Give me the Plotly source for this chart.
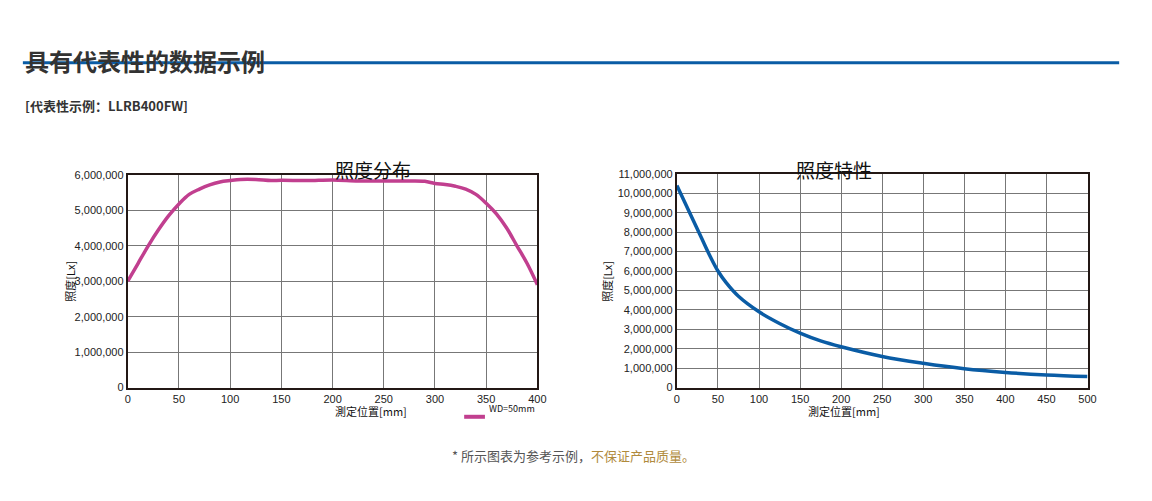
import plotly.graph_objects as go

# 照度分布 (left)
dist_x = [0, 10, 20, 30, 40, 50, 60, 70, 80, 90, 100, 110, 125, 140, 150, 175, 200, 225, 250,
          275, 290, 300, 310, 320, 330, 340, 350, 360, 370, 380, 390, 400]
dist_y = [3.0, 3.5, 4.0, 4.45, 4.85, 5.18, 5.45, 5.6, 5.72, 5.8, 5.84, 5.87, 5.87, 5.84, 5.85,
          5.84, 5.86, 5.83, 5.83, 5.83, 5.82, 5.76, 5.73, 5.68, 5.6, 5.45, 5.2, 4.9, 4.5, 4.0, 3.5, 2.9]
dist_y = [v * 1e6 for v in dist_y]

# 照度特性 (right)
char_x = [0, 10, 20, 30, 40, 50, 60, 75, 100, 125, 150, 175, 200, 250, 300, 350, 400, 450, 500]
char_y = [10.4, 9.5, 8.6, 7.7, 6.8, 6.0, 5.4, 4.7, 3.9, 3.3, 2.8, 2.4, 2.1, 1.6, 1.25, 0.97, 0.78, 0.65, 0.57]
char_y = [v * 1e6 for v in char_y]

# page body has an 8px margin, so the figure is made smaller and positions are offset
W, H = 1136, 485
def px(x): return (x - 8) / W
def py(y): return (H - (y - 8)) / H

fig = go.Figure()
fig.add_trace(go.Scatter(x=dist_x, y=dist_y, mode="lines", line=dict(color="#c13f8f", width=3.5, shape="spline"),
                         xaxis="x", yaxis="y", showlegend=False))
fig.add_trace(go.Scatter(x=char_x, y=char_y, mode="lines", line=dict(color="#0a5ca5", width=3.5, shape="spline"),
                         xaxis="x2", yaxis="y2", showlegend=False))

ax = dict(showline=True, mirror=True, linecolor="#231815", linewidth=2, gridcolor="#777", gridwidth=1,
          zeroline=False, ticks="", tickfont=dict(size=11, color="#222", family="Liberation Sans"))
fig.update_layout(
    width=W, height=H, margin=dict(l=0, r=0, t=0, b=0), plot_bgcolor="white", paper_bgcolor="white",
    font=dict(family="Noto Sans CJK SC", color="#333"),
    xaxis=dict(ax, domain=[px(126), px(540)], range=[0, 400], dtick=50, anchor="y"),
    yaxis=dict(ax, domain=[py(391), py(173)], range=[0, 6e6], dtick=1e6, tickformat=",d", anchor="x"),
    xaxis2=dict(ax, domain=[px(681), px(1096)], range=[0, 500], dtick=50, anchor="y2"),
    yaxis2=dict(ax, domain=[py(391), py(172)], range=[0, 11e6], dtick=1e6, tickformat=",d", anchor="x2"),
)

def note(x, y, text, size, **kw):
    fig.add_annotation(x=px(x), y=py(y), xref="paper", yref="paper", text=text, showarrow=False,
                       font=dict(size=size, color=kw.pop("color", "#333")), **kw)

note(20, 36, "<b>具有代表性的数据示例</b>", 24, xanchor="left")
fig.add_shape(type="line", xref="paper", yref="paper", x0=px(20), x1=px(1128), y0=py(58), y1=py(58),
              line=dict(color="#0a5ca5", width=3))
note(20, 90, "<b>[代表性示例：LLRB400FW]</b>", 13, xanchor="left")
note(333, 152, "照度分布", 19, color="#111")
note(880, 152, "照度特性", 19, color="#111")
note(333, 425, "測定位置[mm]", 11, color="#111")
note(888, 425, "測定位置[mm]", 11, color="#111")
note(58, 282, "照度[Lx]", 11, color="#111", textangle=-90)
note(611, 282, "照度[Lx]", 11, color="#111", textangle=-90)
fig.add_shape(type="line", xref="paper", yref="paper", x0=px(466), x1=px(487), y0=py(421), y1=py(421),
              line=dict(color="#c13f8f", width=4))
note(489, 421, "WD=50mm", 9, color="#111", xanchor="left")
note(576, 472, "* 所示图表为参考示例，<span style='color:#b08a3c'>不保证产品质量。</span>", 13, color="#555")

fig.write_html("out.html")
